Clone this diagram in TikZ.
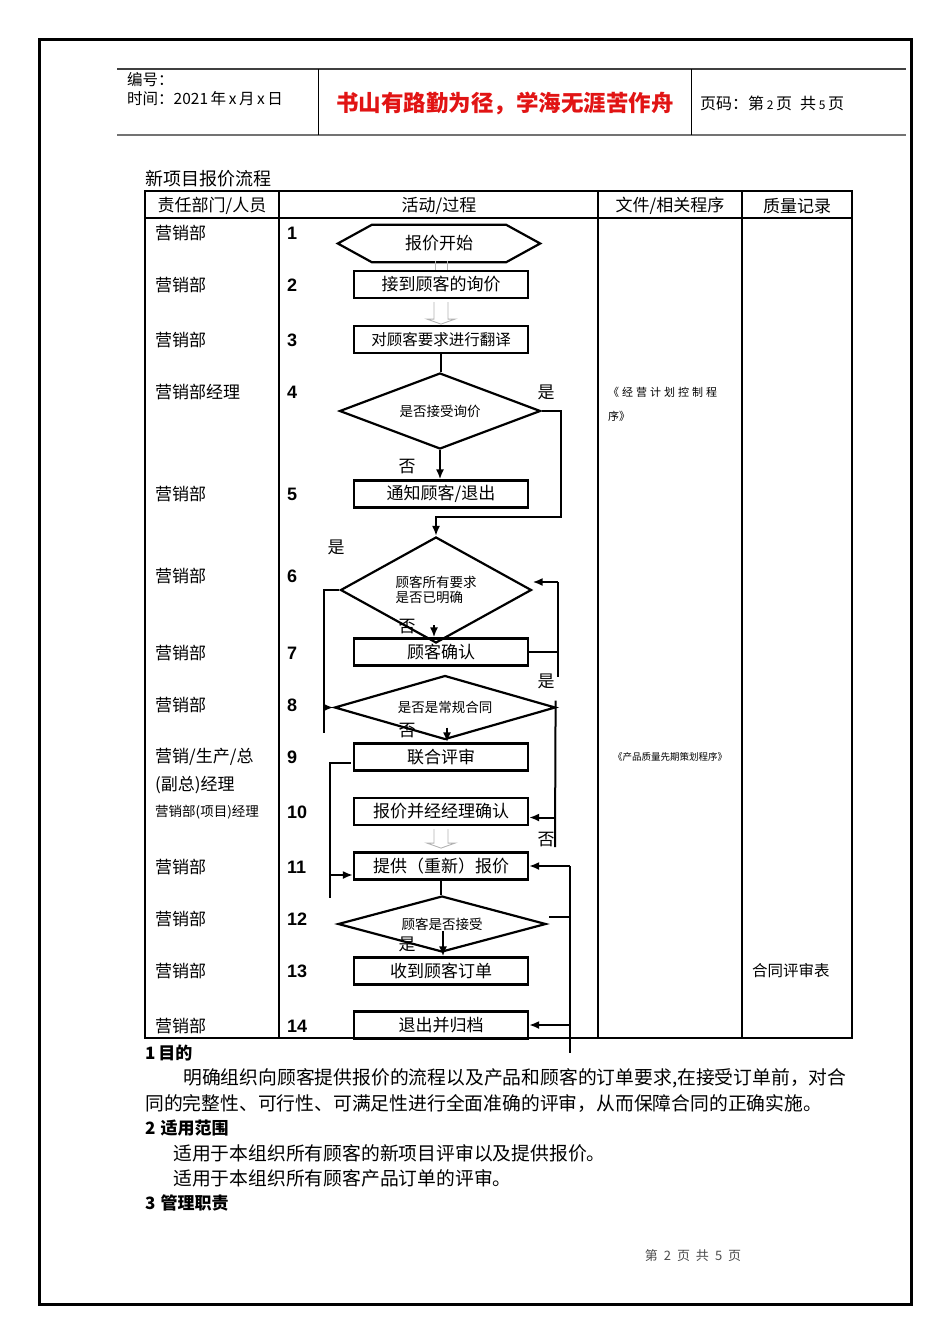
\documentclass[tikz,border=0pt]{standalone}
\usepackage{fontspec}
\setmainfont{Liberation Serif}
\newfontfamily\cjk{Noto Sans CJK SC}
\newfontfamily\arialf{Liberation Sans}
\usetikzlibrary{shapes.geometric,arrows.meta,calc}
\definecolor{titlered}{RGB}{225,20,20}
\tikzset{
  fs/.style={font=\cjk\fontsize{#1}{#1}\selectfont},
  boxnode/.style={draw, line width=2.2pt, minimum width=174pt, minimum height=27pt, inner sep=0pt, fs=17},
  dia/.style={draw, diamond, line width=2.2pt, inner sep=0pt, fs=13.5},
  shapeline/.style={line width=2.2pt, line join=miter},
  conn/.style={line width=2pt},
  arr/.style={line width=2pt, -{Latex[length=10pt,width=8pt]}},
  hollow/.style={draw=black!30, line width=0.9pt},
  lab/.style={inner sep=0pt, fs=17},
  lt/.style={inner sep=0pt, anchor=west, fs=#1},
  num/.style={inner sep=0pt, anchor=west, font=\arialf\bfseries\fontsize{18}{18}\selectfont},
  tline/.style={line width=2pt}
}
\begin{document}
\begin{tikzpicture}[x=1pt,y=-1pt]
\useasboundingbox (0,0) rectangle (950,1344);
% page frame
\draw[line width=3pt] (39,39) rectangle (911,1304);
% header
\draw[line width=1.2pt, black!75] (117,69) -- (906,69);
\draw[line width=2pt, black!55] (117,135) -- (906,135);
\draw[line width=1pt] (318,69) -- (318,135);
\draw[line width=1pt] (691,69) -- (691,135);
\node[lt=15.5] (h1) at (127,80) {编号：};
\node[lt=15.5] (h2) at (127,99) {时间：2021\,年\,x\,月\,x\,日};
\node[inner sep=0pt, text=titlered, font=\cjk\bfseries\fontsize{22.5}{23}\selectfont] (h3) at (505,104) {书山有路勤为径，学海无涯苦作舟};
\node[lt=16] (h4) at (700,103) {页码：第\,{\fontsize{12}{12}\selectfont 2}\,页\hspace{8pt}共\,{\fontsize{12}{12}\selectfont 5}\,页};
% title
\node[lt=18] (title) at (145,179) {新项目报价流程};
% table
\draw[tline] (145,191) rectangle (852,1038);
\draw[tline] (145,218) -- (852,218);
\draw[tline] (279,191) -- (279,1038);
\draw[tline] (598,191) -- (598,1038);
\draw[tline] (742,191) -- (742,1038);
\node[lab] (th1) at (212,206) {责任部门/人员};
\node[lab] (th2) at (439,206) {活动/过程};
\node[lab] (th3) at (670,206) {文件/相关程序};
\node[lab] (th4) at (797,206) {质量记录};
% left column
\node[lt=17] (p1) at (155,233) {营销部};
\node[lt=17] (p2) at (155,285) {营销部};
\node[lt=17] (p3) at (155,340) {营销部};
\node[lt=17] (p4) at (155,392) {营销部经理};
\node[lt=17] (p5) at (155,494) {营销部};
\node[lt=17] (p6) at (155,576) {营销部};
\node[lt=17] (p7) at (155,653) {营销部};
\node[lt=17] (p8) at (155,705) {营销部};
\node[lt=17] (p9) at (155,757) {营销/生产/总};
\node[lt=17] (p9b) at (155,785) {(副总)经理};
\node[lt=13.5] (p10) at (155,812) {营销部(项目)经理};
\node[lt=17] (p11) at (155,867) {营销部};
\node[lt=17] (p12) at (155,919) {营销部};
\node[lt=17] (p13) at (155,971) {营销部};
\node[lt=17] (p14) at (155,1026) {营销部};
% numbers
\node[num] (k1) at (287,233) {1};
\node[num] (k2) at (287,285) {2};
\node[num] (k3) at (287,340) {3};
\node[num] (k4) at (287,392) {4};
\node[num] (k5) at (287,494) {5};
\node[num] (k6) at (287,576) {6};
\node[num] (k7) at (287,653) {7};
\node[num] (k8) at (287,705) {8};
\node[num] (k9) at (287,757) {9};
\node[num] (k10) at (287,812) {10};
\node[num] (k11) at (287,867) {11};
\node[num] (k12) at (287,919) {12};
\node[num] (k13) at (287,971) {13};
\node[num] (k14) at (287,1026) {14};
% right columns
\node[lt=11] (doc1) at (608,392) {《\hspace{3pt}经\hspace{3pt}营\hspace{3pt}计\hspace{3pt}划\hspace{3pt}控\hspace{3pt}制\hspace{3pt}程};
\node[lt=11] (doc1b) at (608,416) {序》};
\node[inner sep=0pt, fs=9.5] (doc2) at (670,757) {《产品质量先期策划程序》};
\node[lt=15.5] (rec) at (752,971) {合同评审表};
% flow nodes
\node[minimum width=202pt, minimum height=37pt, inner sep=0pt, fs=17] (n1) at (439,243.5) {报价开始};
\draw[shapeline] (n1.west) -- ($(n1.north west)+(34,0)$) -- ($(n1.north east)+(-34,0)$) -- (n1.east) -- ($(n1.south east)+(-34,0)$) -- ($(n1.south west)+(34,0)$) -- cycle;
\node[boxnode] (r2) at (441,284.5) {接到顾客的询价};
\node[boxnode, fs=15.5] (r3) at (441,339.5) {对顾客要求进行翻译};
\node[dia, minimum width=201pt, minimum height=76pt, aspect=2.6] (d4) at (440,411) {是否接受询价};
\node[boxnode] (r5) at (441,494) {通知顾客/退出};
\node[dia, minimum width=191pt, minimum height=106pt, aspect=1.8, align=left] (d6) at (436,590) {顾客所有要求\\[1pt]是否已明确};
\node[boxnode] (r7) at (441,652) {顾客确认};
\node[dia, minimum width=221pt, minimum height=64pt, aspect=3.45] (d8) at (445,707.5) {是否是常规合同};
\node[boxnode] (r9) at (441,757) {联合评审};
\node[boxnode] (r10) at (441,811.5) {报价并经经理确认};
\node[boxnode] (r11) at (441,866) {提供（重新）报价};
\node[dia, minimum width=208pt, minimum height=56pt, aspect=3.7] (d12) at (442,924) {顾客是否接受};
\node[boxnode] (r13) at (441,971) {收到顾客订单};
\node[boxnode] (r14) at (441,1025) {退出并归档};
% hollow arrows
\draw[hollow] (r2.north) ++(-6,0) -- ++(0,-9);
\draw[hollow] (r2.north) ++(6,0) -- ++(0,-9);
\draw[hollow] (r2.south) ++(-7,3) -- ++(0,17) -- ++(-7,0) -- ++(14,5) -- ++(14,-5) -- ++(-7,0) -- ++(0,-17);
\draw[hollow] (r10.south) ++(-7,3) -- ++(0,14) -- ++(-7,0) -- ++(14,5) -- ++(14,-5) -- ++(-7,0) -- ++(0,-14);
% connectors
\draw[conn] (r3.south) -- (r3.south |- d4.north);
\draw[arr] (d4.south) -- (d4.south |- r5.north);
\coordinate (c4) at (561,517);
\draw[arr] (d4.east) -| (c4) -| (d6.north);
\coordinate (c6) at (324,733);
\draw[conn] (d6.west) -| (c6);
\draw[arr] (c6 |- d8.west) -- (d8.west);
\draw[arr] ($(d6.south)+(-2,-19)$) -- ($(d6.south |- r7.north)+(-2,0)$);
\coordinate (c7) at (558,582);
\coordinate (c7b) at (558,677);
\draw[conn] (c7) -- (c7b);
\draw[conn] (r7.east) -- (r7.east -| c7);
\draw[arr] (c7) -- (c7 -| d6.east);
\draw[arr] ($(d8.south)+(2,-13)$) -- ($(d8.south |- r9.north)+(2,0)$);
\coordinate (c8) at (555,847);
\draw[conn] ($(d8.east)+(-1,-7)$) -- (c8);
\draw[arr] ($(c8 |- r10.east)+(0,6)$) -- ($(r10.east)+(0,6)$);
\coordinate (c9) at (330,898);
\draw[conn] ($(r9.west)+(-2,6)$) -| (c9);
\draw[arr] ($(c9 |- r11.west)+(0,9)$) -- ($(r11.west)+(0,9)$);
\draw[conn] (r11.south) -- (r11.south |- d12.north);
\draw[arr] ($(d12.south)+(1,-22)$) -- ($(d12.south |- r13.north)+(1,0)$);
\coordinate (c12t) at (570,866);
\coordinate (c12b) at (570,1053);
\draw[conn] ($(d12.east)+(2,-7)$) -- ($(d12.east -| c12t)+(0,-7)$);
\draw[conn] (c12t) -- (c12b);
\draw[arr] (c12t) -- (r11.east);
\draw[arr] (c12b |- r14.east) -- (r14.east);
% branch labels
\node[lab] (y4) at (546,392) {是};
\node[lab] (n4) at (407,467) {否};
\node[lab] (y6) at (336,547) {是};
\node[lab] (n6) at (407,627) {否};
\node[lab] (y8) at (546,681) {是};
\node[lab] (n8) at (407,731) {否};
\node[lab] (n8b) at (546,840) {否};
\node[lab] (y12) at (407,944) {是};
% body text
\node[lt=17, font=\cjk\bfseries\fontsize{17}{17}\selectfont] (s1) at (145,1053) {1\,目的};
\node[lt=18.8] (t1) at (183,1078) {明确组织向顾客提供报价的流程以及产品和顾客的订单要求,在接受订单前，对合};
\node[lt=18.8] (t2) at (145,1103) {同的完整性、可行性、可满足性进行全面准确的评审，从而保障合同的正确实施。};
\node[lt=17, font=\cjk\bfseries\fontsize{17}{17}\selectfont] (s2) at (145,1128) {2\hspace{5pt}适用范围};
\node[lt=18.8] (t3) at (173,1153) {适用于本组织所有顾客的新项目评审以及提供报价。};
\node[lt=18.8] (t4) at (173,1178) {适用于本组织所有顾客产品订单的评审。};
\node[lt=17, font=\cjk\bfseries\fontsize{17}{17}\selectfont] (s3) at (145,1203) {3\hspace{5pt}管理职责};
% footer
\node[inner sep=0pt, fs=13, text=black!70] (foot) at (693,1256) {第\hspace{6pt}2\hspace{6pt}页\hspace{6pt}共\hspace{6pt}5\hspace{6pt}页};
\end{tikzpicture}
\end{document}
